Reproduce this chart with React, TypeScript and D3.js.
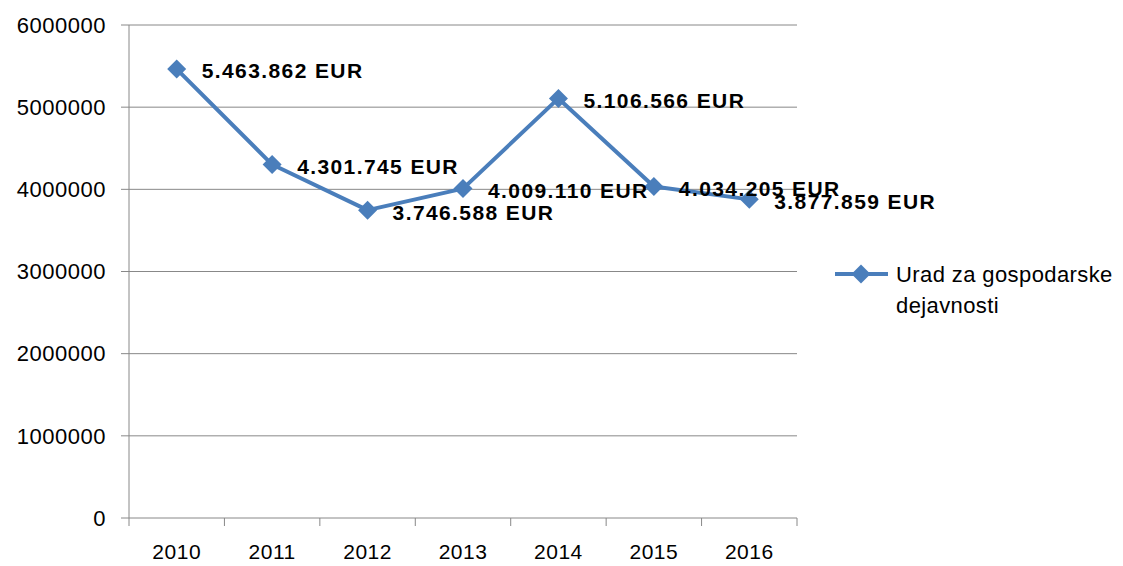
import React, { useRef, useEffect } from 'react';
import * as d3 from 'd3';

const years = ['2010', '2011', '2012', '2013', '2014', '2015', '2016'];
const values = [5463862, 4301745, 3746588, 4009110, 5106566, 4034205, 3877859];
const yTicks = [0, 1000000, 2000000, 3000000, 4000000, 5000000, 6000000];
const seriesName = ['Urad za gospodarske', 'dejavnosti'];

const fmt = (v: number) => d3.format(',')(v).replace(/,/g, '.') + ' EUR';

function App() {
  const svgRef = useRef<SVGSVGElement>(null);

  useEffect(() => {
    const svg = d3.select(svgRef.current);
    svg.selectAll('*').remove();

    const width = 1123;
    const height = 566;
    const margin = { top: 25, right: 326, bottom: 48, left: 129 };
    const color = '#4a7ebb';
    const font = '"Liberation Sans", Arial, sans-serif';

    svg.attr('width', width).attr('height', height);

    const x = d3.scaleBand()
      .domain(years)
      .range([margin.left, width - margin.right]);
    const y = d3.scaleLinear()
      .domain([0, 6000000])
      .range([height - margin.bottom, margin.top]);

    // gridlines + y ticks
    svg.append('g')
      .selectAll('line')
      .data(yTicks)
      .enter()
      .append('line')
      .attr('x1', margin.left - 8)
      .attr('x2', width - margin.right)
      .attr('y1', d => y(d))
      .attr('y2', d => y(d))
      .attr('stroke', '#888')
      .attr('stroke-width', 1);

    svg.append('g')
      .selectAll('text')
      .data(yTicks)
      .enter()
      .append('text')
      .attr('x', 106)
      .attr('y', d => y(d))
      .attr('dy', '0.35em')
      .attr('text-anchor', 'end')
      .attr('font-family', font)
      .attr('font-size', 22)
      .attr('letter-spacing', 0.5)
      .attr('fill', '#000')
      .text(d => String(d));

    // y axis line
    svg.append('line')
      .attr('x1', margin.left).attr('x2', margin.left)
      .attr('y1', margin.top).attr('y2', y(0) + 8)
      .attr('stroke', '#888');

    // x ticks at category boundaries
    const bounds = years.map(d => x(d)! + x.bandwidth());
    svg.append('g')
      .selectAll('line')
      .data(bounds)
      .enter()
      .append('line')
      .attr('x1', d => d).attr('x2', d => d)
      .attr('y1', y(0)).attr('y2', y(0) + 8)
      .attr('stroke', '#888');

    svg.append('g')
      .selectAll('text')
      .data(years)
      .enter()
      .append('text')
      .attr('x', d => x(d)! + x.bandwidth() / 2)
      .attr('y', y(0) + 34)
      .attr('dy', '0.35em')
      .attr('text-anchor', 'middle')
      .attr('font-family', font)
      .attr('font-size', 21)
      .attr('letter-spacing', 0.5)
      .attr('fill', '#000')
      .text(d => d);

    const pts = years.map((d, i) => [x(d)! + x.bandwidth() / 2, y(values[i])] as [number, number]);

    svg.append('path')
      .attr('d', d3.line()(pts))
      .attr('fill', 'none')
      .attr('stroke', color)
      .attr('stroke-width', 4)
      .attr('stroke-linejoin', 'round');

    const diamond = d3.symbol().type(d3.symbolDiamond2).size(230);
    svg.append('g')
      .selectAll('path')
      .data(pts)
      .enter()
      .append('path')
      .attr('d', diamond)
      .attr('transform', d => `translate(${d[0]},${d[1]})`)
      .attr('fill', color);

    svg.append('g')
      .selectAll('text')
      .data(pts)
      .enter()
      .append('text')
      .attr('x', d => d[0] + 25)
      .attr('y', d => d[1] + 2)
      .attr('dy', '0.35em')
      .attr('font-family', font)
      .attr('font-size', 21)
      .attr('font-weight', 'bold')
      .attr('letter-spacing', 1.4)
      .attr('fill', '#000')
      .text((d, i) => fmt(values[i]));

    // legend
    const lg = svg.append('g');
    lg.append('line')
      .attr('x1', 835).attr('x2', 888)
      .attr('y1', 274).attr('y2', 274)
      .attr('stroke', color).attr('stroke-width', 4);
    lg.append('path')
      .attr('d', diamond)
      .attr('transform', 'translate(861,274)')
      .attr('fill', color);
    lg.selectAll('text')
      .data(seriesName)
      .enter()
      .append('text')
      .attr('x', 896)
      .attr('y', (d, i) => 274 + i * 31)
      .attr('dy', '0.35em')
      .attr('font-family', font)
      .attr('font-size', 22)
      .attr('letter-spacing', 0.4)
      .attr('fill', '#000')
      .text(d => d);
  }, []);

  return <svg ref={svgRef} style={{ position: 'absolute', left: 0, top: 0 }}></svg>;
}

export default App;
